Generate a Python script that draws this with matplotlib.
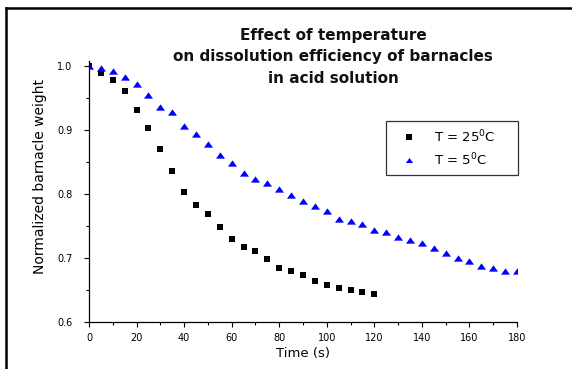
import matplotlib
matplotlib.use("Agg")
import matplotlib.pyplot as plt
from matplotlib.lines import Line2D
from matplotlib.ticker import MultipleLocator, FormatStrFormatter

plt.rcParams['font.family'] = ['DejaVu Sans']

# ---- data ----
time_25 = [0, 5, 10, 15, 20, 25, 30, 35, 40, 45, 50, 55, 60, 65, 70, 75, 80, 85,
           90, 95, 100, 105, 110, 115, 120]
weight_25 = [1.000, 0.989, 0.977, 0.960, 0.931, 0.902, 0.870, 0.835, 0.803, 0.782,
             0.769, 0.748, 0.729, 0.716, 0.710, 0.698, 0.684, 0.679, 0.673, 0.663,
             0.657, 0.652, 0.650, 0.647, 0.644]

time_5 = [0, 5, 10, 15, 20, 25, 30, 35, 40, 45, 50, 55, 60, 65, 70, 75, 80, 85, 90,
          95, 100, 105, 110, 115, 120, 125, 130, 135, 140, 145, 150, 155, 160, 165,
          170, 175, 180]
weight_5 = [1.000, 0.996, 0.992, 0.982, 0.971, 0.954, 0.936, 0.927, 0.906, 0.894,
            0.878, 0.861, 0.848, 0.833, 0.823, 0.816, 0.808, 0.798, 0.788, 0.781,
            0.773, 0.760, 0.758, 0.753, 0.743, 0.740, 0.733, 0.727, 0.723, 0.715,
            0.707, 0.700, 0.695, 0.687, 0.684, 0.680, 0.680]

series_labels = [r"T = 25$^{0}$C", r"T = 5$^{0}$C"]
title_text = "Effect of temperature\non dissolution efficiency of barnacles\nin acid solution"
x_label = "Time (s)"
y_label = "Normalized barnacle weight"

W, H = 572, 369
fig = plt.figure(figsize=(W / 100, H / 100), dpi=100)
ax = fig.add_axes([89 / W, 1 - 321.7 / H, 428 / W, 261.1 / H])

tri = [(-1, -0.7), (1, -0.7), (0, 0.7)]
ax.plot(time_25, weight_25, linestyle='none', marker='s', markersize=5,
        color='black', markeredgewidth=0, label=series_labels[0])
ax.plot(time_5, weight_5, linestyle='none', marker=tri, markersize=6.5,
        color='#0000ff', markeredgewidth=0, label=series_labels[1])

ax.set_xlim(0, 180)
ax.set_ylim(0.6, 1.008)
ax.spines['top'].set_visible(False)
ax.spines['right'].set_visible(False)
for s in ('left', 'bottom'):
    ax.spines[s].set_linewidth(0.9)

ax.xaxis.set_major_locator(MultipleLocator(20))
ax.xaxis.set_minor_locator(MultipleLocator(10))
ax.yaxis.set_major_locator(MultipleLocator(0.1))
ax.yaxis.set_minor_locator(MultipleLocator(0.05))
ax.yaxis.set_major_formatter(FormatStrFormatter('%.1f'))

ax.tick_params(which='major', direction='out', length=3.8, width=0.8, labelsize=7,
               colors='black')
ax.tick_params(which='minor', direction='out', length=2.0, width=0.8)
ax.tick_params(axis='x', which='major', pad=4)
ax.tick_params(axis='y', which='major', pad=8)

ax.set_xlabel(x_label, fontsize=9.5)
ax.xaxis.set_label_coords(0.5, -0.098)
ax.set_ylabel(y_label, fontsize=10)
ax.yaxis.set_label_coords(-0.097, 0.556)

fig.text(333 / W, 1 - 57 / H, title_text, ha='center', va='center',
         fontsize=11, fontweight='bold', linespacing=1.58, color='#111111')

leg = ax.legend(loc='upper left',
                bbox_to_anchor=((386 - 89) / 428, (321.7 - 175) / 261.1,
                                132 / 428, 54 / 261.1),
                mode='expand', borderaxespad=0, fontsize=9.5, frameon=True,
                fancybox=False, edgecolor='black', handlelength=2.4,
                handletextpad=0.7, borderpad=0.55, labelspacing=0.5,
                markerscale=0.8)
leg.get_frame().set_linewidth(0.9)

# figure border (left and top)
fig.add_artist(Line2D([6 / W, 6 / W], [0, 1 - 8 / H], transform=fig.transFigure,
                      color='black', linewidth=1.8))
fig.add_artist(Line2D([6 / W, 1], [1 - 8 / H, 1 - 8 / H], transform=fig.transFigure,
                      color='black', linewidth=1.8))

fig.savefig("out.png", dpi=100)
